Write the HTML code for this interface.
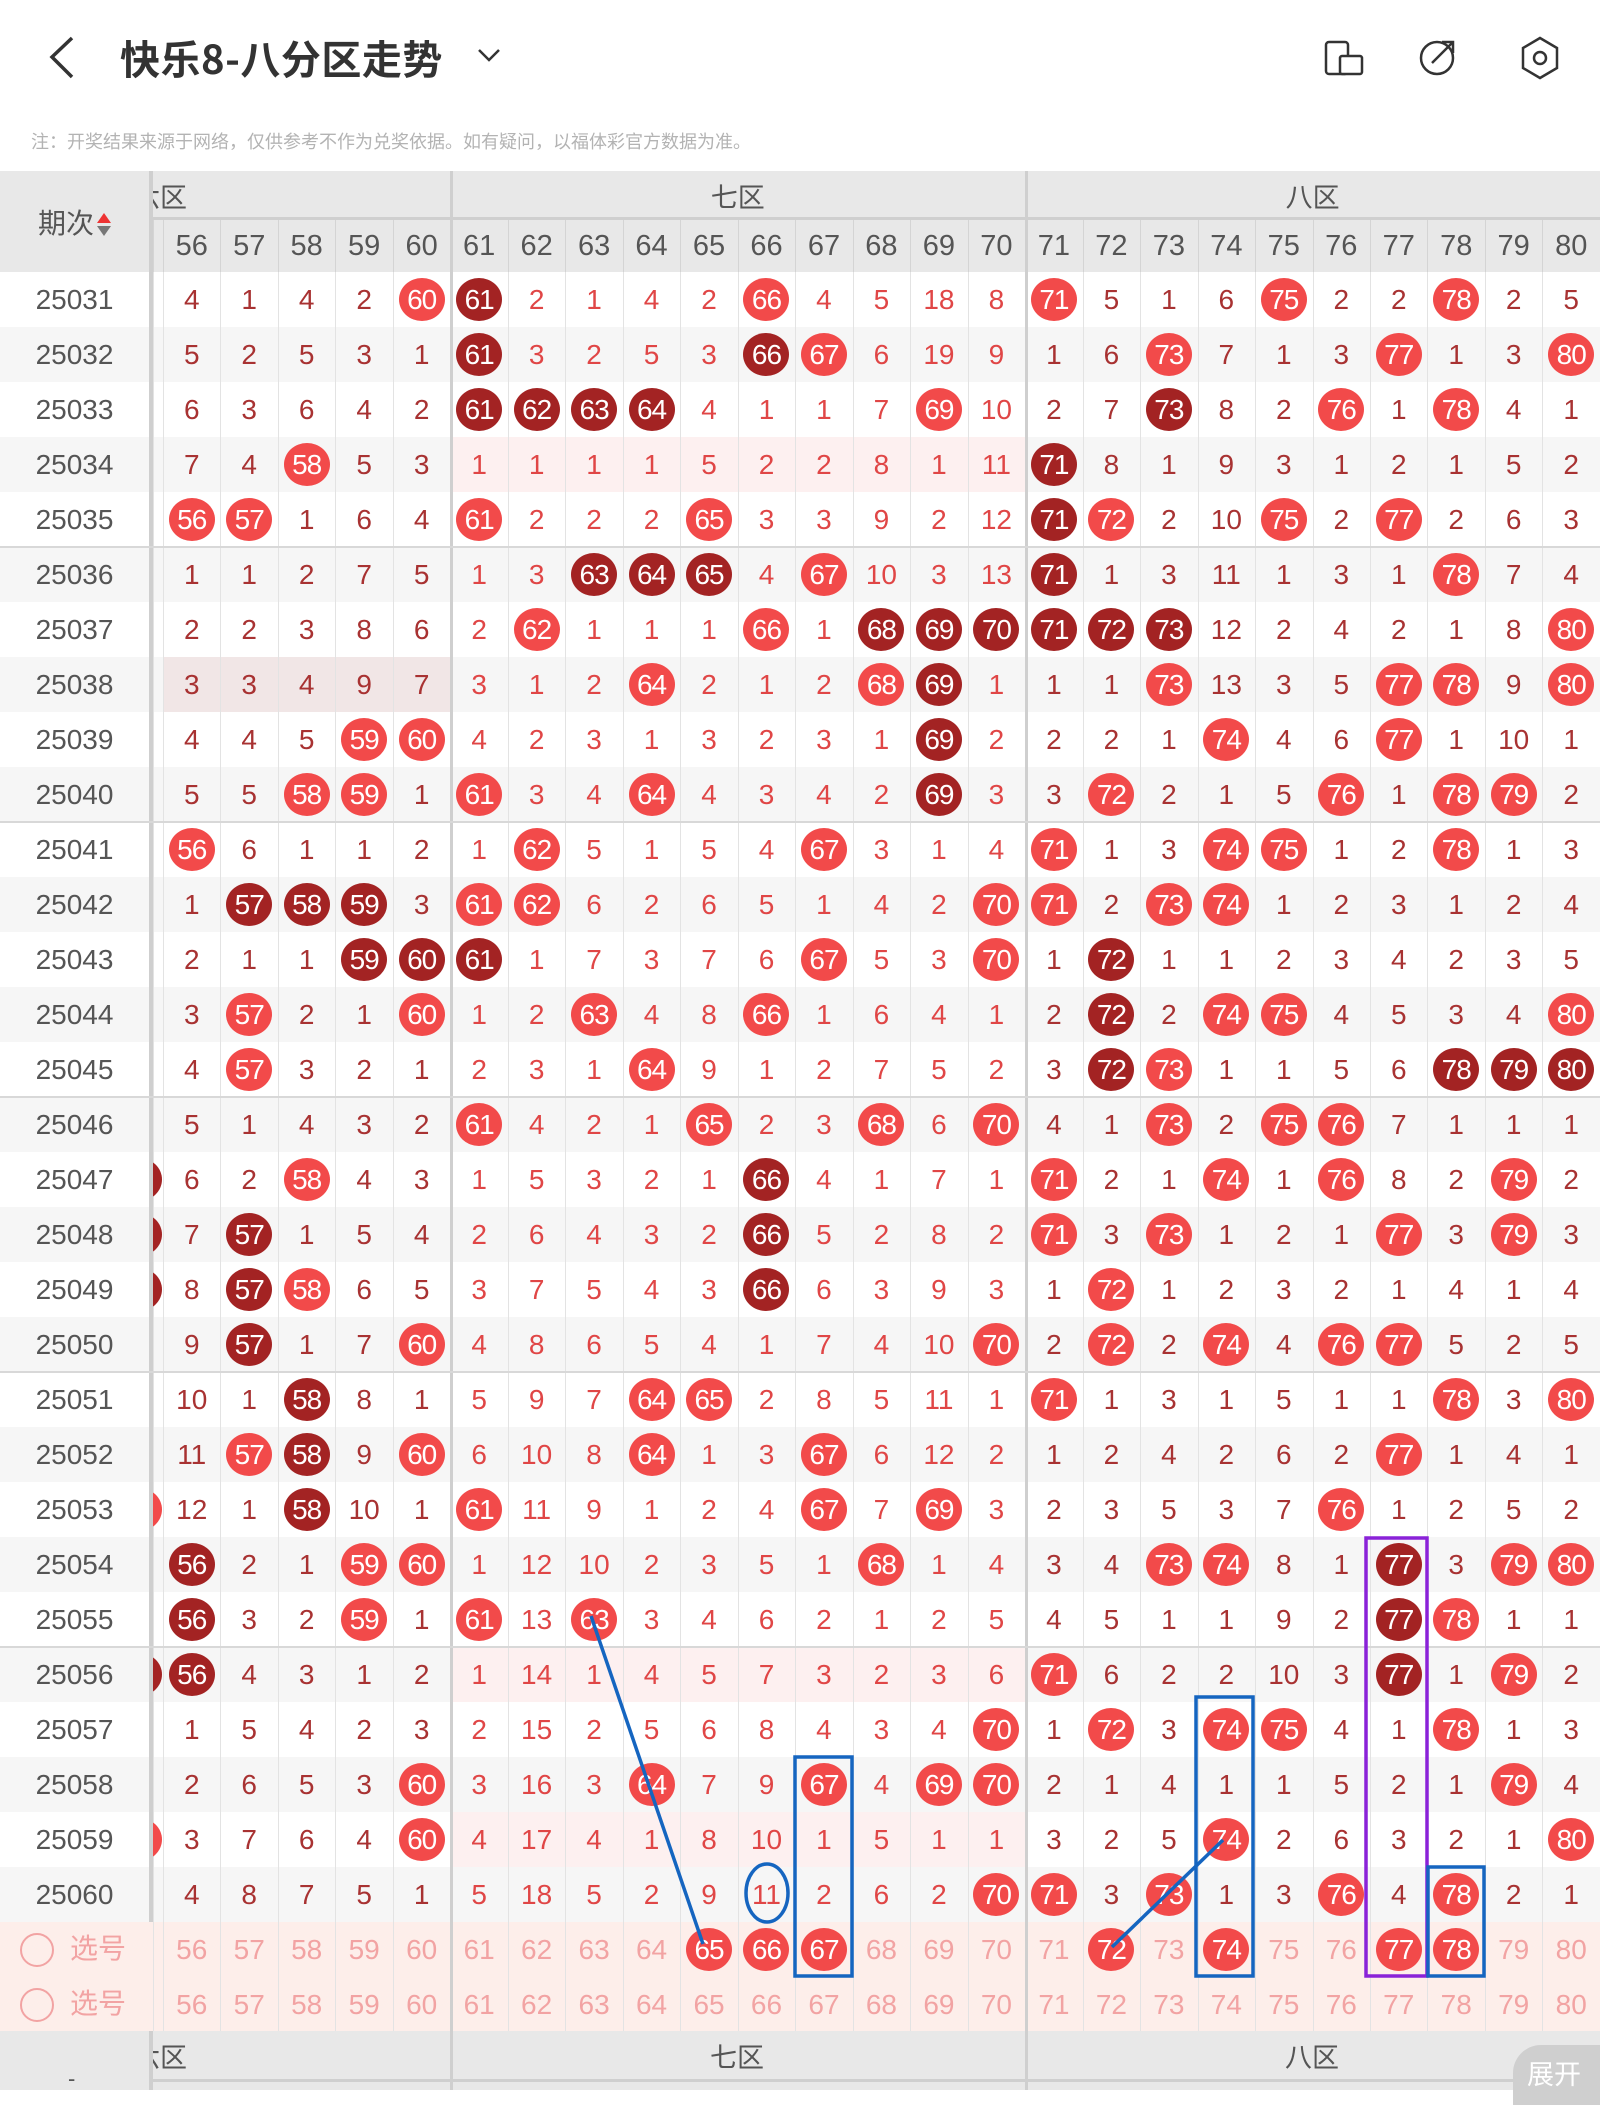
<!DOCTYPE html>
<html><head><meta charset="utf-8"><style>
*{margin:0;padding:0;box-sizing:border-box}
body{width:1600px;height:2090px;background:#fff;font-family:"Liberation Sans","Noto Sans CJK SC",sans-serif;position:relative;overflow:hidden}
.title{position:absolute;left:120px;top:28px;font-size:40px;font-weight:bold;color:#333;font-family:"Noto Sans CJK SC","Liberation Sans",sans-serif;letter-spacing:0.5px}
.note{position:absolute;left:31px;top:128px;font-size:18px;color:#b3b3b3;font-family:"Noto Sans CJK SC",sans-serif}
table{position:absolute;left:0;top:171px;border-collapse:collapse;border-spacing:0;table-layout:fixed;width:1600px}
td{padding:0;text-align:center;font-size:28px;color:#a83232;overflow:hidden;white-space:nowrap;line-height:30px}
tbody tr{height:55px}
tbody td{height:55px}
tbody tr:nth-child(even){background:#f6f6f6}
tbody td{box-shadow:inset 1px 0 #e3e3e3}
tbody td.q{box-shadow:none;color:#555;font-size:28px}
tbody td.s{background:#cfcfcf;box-shadow:none}
tbody td:nth-child(9),tbody td:nth-child(19){box-shadow:inset 3px 0 #cfcfcf}
tbody td:nth-child(n+9):nth-child(-n+18){color:#e04646}
td.p{background:#fdf0f0}
td.c{text-align:left}
b,i{display:inline-block;width:46px;height:43px;border-radius:50%;background:#f24a4a;color:#fff;line-height:43px;font-weight:normal;font-style:normal;font-size:28px;letter-spacing:-1px;vertical-align:middle}
i{background:#a32323}
td.c b,td.c i{margin-left:-37px}
thead td{background:#e8e8e8;color:#555;font-family:"Noto Sans CJK SC","Liberation Sans",sans-serif}
thead tr.h1,thead tr.h1 td{height:49px}thead tr.h2,thead tr.h2 td{height:52px}
thead tr.h2 td{font-family:"Liberation Sans",sans-serif;box-shadow:inset 1px 0 #d4d4d4;font-size:29px}
thead tr.h2 td.z{box-shadow:inset 3px 0 #cfcfcf}
thead tr.h1 td.zz{box-shadow:inset 0 -3px #cfcfcf}
thead tr.h1 td.zz.z{box-shadow:inset 3px 0 #cfcfcf,inset 0 -3px #cfcfcf}
tr.sel{background:#fdeeea!important}
tr.sel td{color:#f2a3a3!important;background:#fdeeea}
tr.sel td.q{color:#f2a3a3!important;font-family:"Noto Sans CJK SC",sans-serif;text-align:left;padding-left:20px}
tr.sel td b{color:#fff}
.circ{display:inline-block;width:34px;height:34px;border:2px solid #f2a3a3;border-radius:50%;vertical-align:middle;margin-right:16px}
.gl{position:absolute;left:0;width:1600px;height:2px;background:#d8d8d8}
</style></head><body>
<svg style="position:absolute;left:0;top:0" width="1600" height="110">
<polyline points="72,38 52,57 72,77" fill="none" stroke="#333" stroke-width="3.5"/>
<polyline points="479,50 489,60 499,50" fill="none" stroke="#333" stroke-width="2.5"/>
<rect x="1326" y="42" width="22" height="32" rx="3" fill="none" stroke="#333" stroke-width="2.5"/>
<rect x="1340" y="56" width="22" height="18" rx="2" fill="#fff" stroke="#333" stroke-width="2.5"/>
<circle cx="1437" cy="58" r="16" fill="none" stroke="#333" stroke-width="2.5"/>
<path d="M1432 63 L1452 43 M1442 42 L1453 42 L1453 53" fill="none" stroke="#333" stroke-width="2.5"/>
<polygon points="1540,38 1557,48 1557,68 1540,78 1523,68 1523,48" fill="none" stroke="#333" stroke-width="2.5"/>
<circle cx="1540" cy="58" r="6" fill="none" stroke="#333" stroke-width="2.5"/>
</svg>
<div class="title">快乐8-八分区走势</div>
<div class="note">注：开奖结果来源于网络，仅供参考不作为兑奖依据。如有疑问，以福体彩官方数据为准。</div>
<table>
<colgroup><col style="width:149px"><col style="width:4px"><col style="width:10px"><col span="25" style="width:57.48px"></colgroup>
<thead>
<tr class="h1"><td rowspan="2" style="font-size:28px;color:#555">期次<span style="display:inline-block;vertical-align:middle;margin-left:3px;line-height:0"><span style="display:block;width:0;height:0;border-left:7px solid transparent;border-right:7px solid transparent;border-bottom:10px solid #e33;margin-bottom:3px"></span><span style="display:block;width:0;height:0;border-left:7px solid transparent;border-right:7px solid transparent;border-top:10px solid #777"></span></span></td><td style="background:#cfcfcf"></td><td colspan="6" class="zz" style="text-align:left;font-size:27px"><span style="margin-left:-20px">六区</span></td><td colspan="10" class="zz z" style="font-size:27px">七区</td><td colspan="10" class="zz z" style="font-size:27px">八区</td></tr>
<tr class="h2"><td style="background:#cfcfcf;box-shadow:none"></td><td></td><td>56</td><td>57</td><td>58</td><td>59</td><td>60</td><td class="z">61</td><td>62</td><td>63</td><td>64</td><td>65</td><td>66</td><td>67</td><td>68</td><td>69</td><td>70</td><td class="z">71</td><td>72</td><td>73</td><td>74</td><td>75</td><td>76</td><td>77</td><td>78</td><td>79</td><td>80</td></tr>
</thead>
<tbody>
<tr><td class="q">25031</td><td class="s"></td><td class="c"></td><td>4</td><td>1</td><td>4</td><td>2</td><td><b>60</b></td><td><i>61</i></td><td>2</td><td>1</td><td>4</td><td>2</td><td><b>66</b></td><td>4</td><td>5</td><td>18</td><td>8</td><td><b>71</b></td><td>5</td><td>1</td><td>6</td><td><b>75</b></td><td>2</td><td>2</td><td><b>78</b></td><td>2</td><td>5</td></tr>
<tr><td class="q">25032</td><td class="s"></td><td class="c"></td><td>5</td><td>2</td><td>5</td><td>3</td><td>1</td><td><i>61</i></td><td>3</td><td>2</td><td>5</td><td>3</td><td><i>66</i></td><td><b>67</b></td><td>6</td><td>19</td><td>9</td><td>1</td><td>6</td><td><b>73</b></td><td>7</td><td>1</td><td>3</td><td><b>77</b></td><td>1</td><td>3</td><td><b>80</b></td></tr>
<tr><td class="q">25033</td><td class="s"></td><td class="c"></td><td>6</td><td>3</td><td>6</td><td>4</td><td>2</td><td><i>61</i></td><td><i>62</i></td><td><i>63</i></td><td><i>64</i></td><td>4</td><td>1</td><td>1</td><td>7</td><td><b>69</b></td><td>10</td><td>2</td><td>7</td><td><i>73</i></td><td>8</td><td>2</td><td><b>76</b></td><td>1</td><td><b>78</b></td><td>4</td><td>1</td></tr>
<tr><td class="q">25034</td><td class="s"></td><td class="c"></td><td>7</td><td>4</td><td><b>58</b></td><td>5</td><td>3</td><td class="p">1</td><td class="p">1</td><td class="p">1</td><td class="p">1</td><td class="p">5</td><td class="p">2</td><td class="p">2</td><td class="p">8</td><td class="p">1</td><td class="p">11</td><td><i>71</i></td><td>8</td><td>1</td><td>9</td><td>3</td><td>1</td><td>2</td><td>1</td><td>5</td><td>2</td></tr>
<tr><td class="q">25035</td><td class="s"></td><td class="c"></td><td><b>56</b></td><td><b>57</b></td><td>1</td><td>6</td><td>4</td><td><b>61</b></td><td>2</td><td>2</td><td>2</td><td><b>65</b></td><td>3</td><td>3</td><td>9</td><td>2</td><td>12</td><td><i>71</i></td><td><b>72</b></td><td>2</td><td>10</td><td><b>75</b></td><td>2</td><td><b>77</b></td><td>2</td><td>6</td><td>3</td></tr>
<tr><td class="q">25036</td><td class="s"></td><td class="c"></td><td>1</td><td>1</td><td>2</td><td>7</td><td>5</td><td>1</td><td>3</td><td><i>63</i></td><td><i>64</i></td><td><i>65</i></td><td>4</td><td><b>67</b></td><td>10</td><td>3</td><td>13</td><td><i>71</i></td><td>1</td><td>3</td><td>11</td><td>1</td><td>3</td><td>1</td><td><b>78</b></td><td>7</td><td>4</td></tr>
<tr><td class="q">25037</td><td class="s"></td><td class="c"></td><td>2</td><td>2</td><td>3</td><td>8</td><td>6</td><td>2</td><td><b>62</b></td><td>1</td><td>1</td><td>1</td><td><b>66</b></td><td>1</td><td><i>68</i></td><td><i>69</i></td><td><i>70</i></td><td><i>71</i></td><td><i>72</i></td><td><i>73</i></td><td>12</td><td>2</td><td>4</td><td>2</td><td>1</td><td>8</td><td><b>80</b></td></tr>
<tr><td class="q">25038</td><td class="s"></td><td class="c"></td><td style="background:#f1e6e6">3</td><td style="background:#f1e6e6">3</td><td style="background:#f1e6e6">4</td><td style="background:#f1e6e6">9</td><td style="background:#f1e6e6">7</td><td>3</td><td>1</td><td>2</td><td><b>64</b></td><td>2</td><td>1</td><td>2</td><td><b>68</b></td><td><i>69</i></td><td>1</td><td>1</td><td>1</td><td><b>73</b></td><td>13</td><td>3</td><td>5</td><td><b>77</b></td><td><b>78</b></td><td>9</td><td><b>80</b></td></tr>
<tr><td class="q">25039</td><td class="s"></td><td class="c"></td><td>4</td><td>4</td><td>5</td><td><b>59</b></td><td><b>60</b></td><td>4</td><td>2</td><td>3</td><td>1</td><td>3</td><td>2</td><td>3</td><td>1</td><td><i>69</i></td><td>2</td><td>2</td><td>2</td><td>1</td><td><b>74</b></td><td>4</td><td>6</td><td><b>77</b></td><td>1</td><td>10</td><td>1</td></tr>
<tr><td class="q">25040</td><td class="s"></td><td class="c"></td><td>5</td><td>5</td><td><b>58</b></td><td><b>59</b></td><td>1</td><td><b>61</b></td><td>3</td><td>4</td><td><b>64</b></td><td>4</td><td>3</td><td>4</td><td>2</td><td><i>69</i></td><td>3</td><td>3</td><td><b>72</b></td><td>2</td><td>1</td><td>5</td><td><b>76</b></td><td>1</td><td><b>78</b></td><td><b>79</b></td><td>2</td></tr>
<tr><td class="q">25041</td><td class="s"></td><td class="c"></td><td><b>56</b></td><td>6</td><td>1</td><td>1</td><td>2</td><td>1</td><td><b>62</b></td><td>5</td><td>1</td><td>5</td><td>4</td><td><b>67</b></td><td>3</td><td>1</td><td>4</td><td><b>71</b></td><td>1</td><td>3</td><td><b>74</b></td><td><b>75</b></td><td>1</td><td>2</td><td><b>78</b></td><td>1</td><td>3</td></tr>
<tr><td class="q">25042</td><td class="s"></td><td class="c"></td><td>1</td><td><i>57</i></td><td><i>58</i></td><td><i>59</i></td><td>3</td><td><b>61</b></td><td><b>62</b></td><td>6</td><td>2</td><td>6</td><td>5</td><td>1</td><td>4</td><td>2</td><td><b>70</b></td><td><b>71</b></td><td>2</td><td><b>73</b></td><td><b>74</b></td><td>1</td><td>2</td><td>3</td><td>1</td><td>2</td><td>4</td></tr>
<tr><td class="q">25043</td><td class="s"></td><td class="c"></td><td>2</td><td>1</td><td>1</td><td><i>59</i></td><td><i>60</i></td><td><i>61</i></td><td>1</td><td>7</td><td>3</td><td>7</td><td>6</td><td><b>67</b></td><td>5</td><td>3</td><td><b>70</b></td><td>1</td><td><i>72</i></td><td>1</td><td>1</td><td>2</td><td>3</td><td>4</td><td>2</td><td>3</td><td>5</td></tr>
<tr><td class="q">25044</td><td class="s"></td><td class="c"></td><td>3</td><td><b>57</b></td><td>2</td><td>1</td><td><b>60</b></td><td>1</td><td>2</td><td><b>63</b></td><td>4</td><td>8</td><td><b>66</b></td><td>1</td><td>6</td><td>4</td><td>1</td><td>2</td><td><i>72</i></td><td>2</td><td><b>74</b></td><td><b>75</b></td><td>4</td><td>5</td><td>3</td><td>4</td><td><b>80</b></td></tr>
<tr><td class="q">25045</td><td class="s"></td><td class="c"></td><td>4</td><td><b>57</b></td><td>3</td><td>2</td><td>1</td><td>2</td><td>3</td><td>1</td><td><b>64</b></td><td>9</td><td>1</td><td>2</td><td>7</td><td>5</td><td>2</td><td>3</td><td><i>72</i></td><td><b>73</b></td><td>1</td><td>1</td><td>5</td><td>6</td><td><i>78</i></td><td><i>79</i></td><td><i>80</i></td></tr>
<tr><td class="q">25046</td><td class="s"></td><td class="c"></td><td>5</td><td>1</td><td>4</td><td>3</td><td>2</td><td><b>61</b></td><td>4</td><td>2</td><td>1</td><td><b>65</b></td><td>2</td><td>3</td><td><b>68</b></td><td>6</td><td><b>70</b></td><td>4</td><td>1</td><td><b>73</b></td><td>2</td><td><b>75</b></td><td><b>76</b></td><td>7</td><td>1</td><td>1</td><td>1</td></tr>
<tr><td class="q">25047</td><td class="s"></td><td class="c"><i>55</i></td><td>6</td><td>2</td><td><b>58</b></td><td>4</td><td>3</td><td>1</td><td>5</td><td>3</td><td>2</td><td>1</td><td><i>66</i></td><td>4</td><td>1</td><td>7</td><td>1</td><td><b>71</b></td><td>2</td><td>1</td><td><b>74</b></td><td>1</td><td><b>76</b></td><td>8</td><td>2</td><td><b>79</b></td><td>2</td></tr>
<tr><td class="q">25048</td><td class="s"></td><td class="c"><i>55</i></td><td>7</td><td><i>57</i></td><td>1</td><td>5</td><td>4</td><td>2</td><td>6</td><td>4</td><td>3</td><td>2</td><td><i>66</i></td><td>5</td><td>2</td><td>8</td><td>2</td><td><b>71</b></td><td>3</td><td><b>73</b></td><td>1</td><td>2</td><td>1</td><td><b>77</b></td><td>3</td><td><b>79</b></td><td>3</td></tr>
<tr><td class="q">25049</td><td class="s"></td><td class="c"><i>55</i></td><td>8</td><td><i>57</i></td><td><b>58</b></td><td>6</td><td>5</td><td>3</td><td>7</td><td>5</td><td>4</td><td>3</td><td><i>66</i></td><td>6</td><td>3</td><td>9</td><td>3</td><td>1</td><td><b>72</b></td><td>1</td><td>2</td><td>3</td><td>2</td><td>1</td><td>4</td><td>1</td><td>4</td></tr>
<tr><td class="q">25050</td><td class="s"></td><td class="c"></td><td>9</td><td><i>57</i></td><td>1</td><td>7</td><td><b>60</b></td><td>4</td><td>8</td><td>6</td><td>5</td><td>4</td><td>1</td><td>7</td><td>4</td><td>10</td><td><b>70</b></td><td>2</td><td><b>72</b></td><td>2</td><td><b>74</b></td><td>4</td><td><b>76</b></td><td><b>77</b></td><td>5</td><td>2</td><td>5</td></tr>
<tr><td class="q">25051</td><td class="s"></td><td class="c"></td><td>10</td><td>1</td><td><i>58</i></td><td>8</td><td>1</td><td>5</td><td>9</td><td>7</td><td><b>64</b></td><td><b>65</b></td><td>2</td><td>8</td><td>5</td><td>11</td><td>1</td><td><b>71</b></td><td>1</td><td>3</td><td>1</td><td>5</td><td>1</td><td>1</td><td><b>78</b></td><td>3</td><td><b>80</b></td></tr>
<tr><td class="q">25052</td><td class="s"></td><td class="c"></td><td>11</td><td><b>57</b></td><td><i>58</i></td><td>9</td><td><b>60</b></td><td>6</td><td>10</td><td>8</td><td><b>64</b></td><td>1</td><td>3</td><td><b>67</b></td><td>6</td><td>12</td><td>2</td><td>1</td><td>2</td><td>4</td><td>2</td><td>6</td><td>2</td><td><b>77</b></td><td>1</td><td>4</td><td>1</td></tr>
<tr><td class="q">25053</td><td class="s"></td><td class="c"><b>55</b></td><td>12</td><td>1</td><td><i>58</i></td><td>10</td><td>1</td><td><b>61</b></td><td>11</td><td>9</td><td>1</td><td>2</td><td>4</td><td><b>67</b></td><td>7</td><td><b>69</b></td><td>3</td><td>2</td><td>3</td><td>5</td><td>3</td><td>7</td><td><b>76</b></td><td>1</td><td>2</td><td>5</td><td>2</td></tr>
<tr><td class="q">25054</td><td class="s"></td><td class="c"></td><td><i>56</i></td><td>2</td><td>1</td><td><b>59</b></td><td><b>60</b></td><td>1</td><td>12</td><td>10</td><td>2</td><td>3</td><td>5</td><td>1</td><td><b>68</b></td><td>1</td><td>4</td><td>3</td><td>4</td><td><b>73</b></td><td><b>74</b></td><td>8</td><td>1</td><td><i>77</i></td><td>3</td><td><b>79</b></td><td><b>80</b></td></tr>
<tr><td class="q">25055</td><td class="s"></td><td class="c"></td><td><i>56</i></td><td>3</td><td>2</td><td><b>59</b></td><td>1</td><td><b>61</b></td><td>13</td><td><b>63</b></td><td>3</td><td>4</td><td>6</td><td>2</td><td>1</td><td>2</td><td>5</td><td>4</td><td>5</td><td>1</td><td>1</td><td>9</td><td>2</td><td><i>77</i></td><td><b>78</b></td><td>1</td><td>1</td></tr>
<tr><td class="q">25056</td><td class="s"></td><td class="c"><i>55</i></td><td><i>56</i></td><td>4</td><td>3</td><td>1</td><td>2</td><td class="p">1</td><td class="p">14</td><td class="p">1</td><td class="p">4</td><td class="p">5</td><td class="p">7</td><td class="p">3</td><td class="p">2</td><td class="p">3</td><td class="p">6</td><td><b>71</b></td><td>6</td><td>2</td><td>2</td><td>10</td><td>3</td><td><i>77</i></td><td>1</td><td><b>79</b></td><td>2</td></tr>
<tr><td class="q">25057</td><td class="s"></td><td class="c"></td><td>1</td><td>5</td><td>4</td><td>2</td><td>3</td><td>2</td><td>15</td><td>2</td><td>5</td><td>6</td><td>8</td><td>4</td><td>3</td><td>4</td><td><b>70</b></td><td>1</td><td><b>72</b></td><td>3</td><td><b>74</b></td><td><b>75</b></td><td>4</td><td>1</td><td><b>78</b></td><td>1</td><td>3</td></tr>
<tr><td class="q">25058</td><td class="s"></td><td class="c"></td><td>2</td><td>6</td><td>5</td><td>3</td><td><b>60</b></td><td>3</td><td>16</td><td>3</td><td><b>64</b></td><td>7</td><td>9</td><td><b>67</b></td><td>4</td><td><b>69</b></td><td><b>70</b></td><td>2</td><td>1</td><td>4</td><td>1</td><td>1</td><td>5</td><td>2</td><td>1</td><td><b>79</b></td><td>4</td></tr>
<tr><td class="q">25059</td><td class="s"></td><td class="c"><b>55</b></td><td>3</td><td>7</td><td>6</td><td>4</td><td><b>60</b></td><td class="p">4</td><td class="p">17</td><td class="p">4</td><td class="p">1</td><td class="p">8</td><td class="p">10</td><td class="p">1</td><td class="p">5</td><td class="p">1</td><td class="p">1</td><td>3</td><td>2</td><td>5</td><td><b>74</b></td><td>2</td><td>6</td><td>3</td><td>2</td><td>1</td><td><b>80</b></td></tr>
<tr><td class="q">25060</td><td class="s"></td><td class="c"></td><td>4</td><td>8</td><td>7</td><td>5</td><td>1</td><td>5</td><td>18</td><td>5</td><td>2</td><td>9</td><td>11</td><td>2</td><td>6</td><td>2</td><td><b>70</b></td><td><b>71</b></td><td>3</td><td><b>73</b></td><td>1</td><td>3</td><td><b>76</b></td><td>4</td><td><b>78</b></td><td>2</td><td>1</td></tr>
<tr class="sel"><td class="q"><span class="circ"></span>选号</td><td class="s"></td><td class="c"></td><td>56</td><td>57</td><td>58</td><td>59</td><td>60</td><td>61</td><td>62</td><td>63</td><td>64</td><td><b>65</b></td><td><b>66</b></td><td><b>67</b></td><td>68</td><td>69</td><td>70</td><td>71</td><td><b>72</b></td><td>73</td><td><b>74</b></td><td>75</td><td>76</td><td><b>77</b></td><td><b>78</b></td><td>79</td><td>80</td></tr>
<tr class="sel"><td class="q"><span class="circ"></span>选号</td><td class="s"></td><td class="c"></td><td>56</td><td>57</td><td>58</td><td>59</td><td>60</td><td>61</td><td>62</td><td>63</td><td>64</td><td>65</td><td>66</td><td>67</td><td>68</td><td>69</td><td>70</td><td>71</td><td>72</td><td>73</td><td>74</td><td>75</td><td>76</td><td>77</td><td>78</td><td>79</td><td>80</td></tr>
</tbody>
</table>
<div class="gl" style="top:546px"></div>
<div class="gl" style="top:821px"></div>
<div class="gl" style="top:1096px"></div>
<div class="gl" style="top:1371px"></div>
<div class="gl" style="top:1646px"></div>
<div style="position:absolute;left:0;top:2031px;width:1600px;height:59px;background:#e8e8e8"></div>
<div style="position:absolute;left:149px;top:2031px;width:4px;height:59px;background:#cfcfcf"></div>
<div style="position:absolute;left:450px;top:2031px;width:3px;height:59px;background:#cfcfcf"></div>
<div style="position:absolute;left:1025px;top:2031px;width:3px;height:59px;background:#cfcfcf"></div>
<div style="position:absolute;left:153px;top:2079px;width:1447px;height:3px;background:#cfcfcf"></div>
<div style="position:absolute;left:153px;top:2036px;font-size:27px;color:#555;font-family:'Noto Sans CJK SC',sans-serif;width:60px;overflow:hidden;white-space:nowrap"><span style="margin-left:-20px">六区</span></div>
<div style="position:absolute;left:710px;top:2036px;font-size:27px;color:#555;font-family:'Noto Sans CJK SC',sans-serif">七区</div>
<div style="position:absolute;left:1285px;top:2036px;font-size:27px;color:#555;font-family:'Noto Sans CJK SC',sans-serif">八区</div>
<div style="position:absolute;left:68px;top:2066px;font-size:22px;color:#555">-</div>
<div style="position:absolute;left:1513px;top:2045px;width:100px;height:60px;border-radius:28px 0 0 0;background:#cfcfcf;color:#fff;font-size:27px;padding:8px 0 0 14px;font-family:'Noto Sans CJK SC',sans-serif">展开</div>
<svg style="position:absolute;left:0;top:0" width="1600" height="2090">
<g fill="none" stroke-width="3.5">
<line x1="591" y1="1616" x2="703" y2="1944" stroke="#1565c0"/>
<ellipse cx="767" cy="1893" rx="21" ry="29" stroke="#1565c0"/>
<rect x="795" y="1757" width="57" height="219" stroke="#1565c0"/>
<line x1="1112" y1="1947" x2="1223" y2="1840" stroke="#1565c0"/>
<rect x="1196" y="1697" width="57" height="279" stroke="#1565c0"/>
<rect x="1366" y="1538" width="61" height="438" stroke="#8a22d8"/>
<rect x="1428" y="1867" width="56" height="109" stroke="#1565c0"/>
</g>
</svg>
</body></html>
